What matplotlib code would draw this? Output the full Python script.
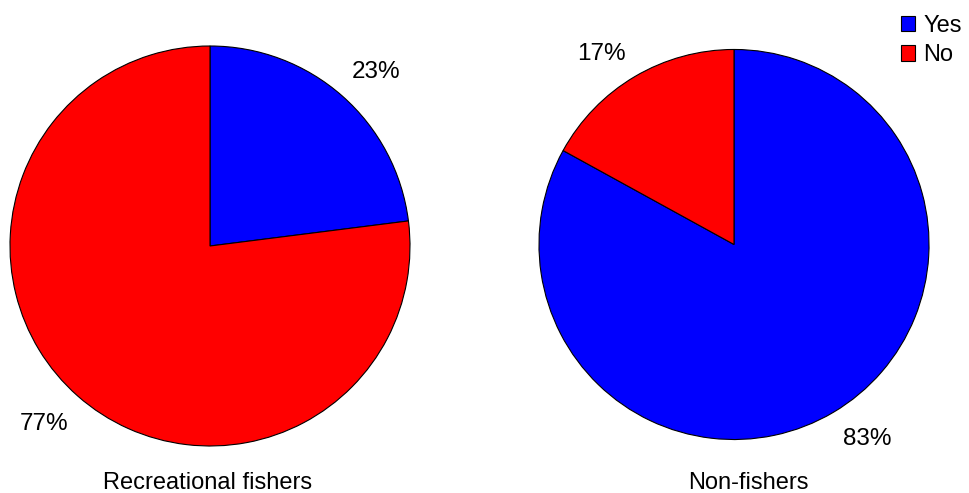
import numpy as np
import matplotlib.pyplot as plt
from matplotlib.patches import Patch

plt.rcParams['font.family'] = ['Liberation Sans', 'DejaVu Sans']

answers = ["Yes", "No"]
colors = ["#0000ff", "#ff0000"]
groups = ["Recreational fishers", "Non-fishers"]
yes_pct = [23, 83]
no_pct = [77, 17]

fig = plt.figure(figsize=(9.69, 4.93), dpi=100)

# axes boxes in figure coords, sized so each pie fills its box
boxes = [
    [9 / 969, 46 / 493, 402 / 969, 402 / 493],
    [538 / 969, 52.5 / 493, 392 / 969, 392 / 493],
]
title_x = [208 / 969, 748 / 969]
# small rotation (degrees) and radial distance for the percent labels
label_turn = [-2.0, 4.0]
label_dist = [1.21, 1.2]

for i, box in enumerate(boxes):
    ax = fig.add_axes(box)
    wedges, texts = ax.pie(
        [yes_pct[i], no_pct[i]],
        colors=colors,
        labels=[f"{yes_pct[i]}%", f"{no_pct[i]}%"],
        startangle=90,
        counterclock=False,
        radius=1,
        wedgeprops=dict(edgecolor="black", linewidth=0.8),
        textprops=dict(fontsize=17.5),
    )
    for w, t in zip(wedges, texts):
        mid = np.deg2rad((w.theta1 + w.theta2) / 2 + label_turn[i])
        t.set_position((label_dist[i] * np.cos(mid),
                        label_dist[i] * np.sin(mid) - 0.01))
        t.set_horizontalalignment("center")
        t.set_verticalalignment("center")
    ax.set_xlim(-1.005, 1.005)
    ax.set_ylim(-1.005, 1.005)
    ax.set_aspect("equal")
    ax.axis("off")
    fig.text(title_x[i], 4 / 493, groups[i], ha="center", va="baseline",
             fontsize=17)

handles = [Patch(facecolor=c, edgecolor="black", linewidth=0.8) for c in colors]
fig.legend(handles, answers, loc="upper right",
           bbox_to_anchor=(1.0, 1.0 - 8 / 493),
           frameon=False, fontsize=17, handlelength=0.62, handleheight=0.62,
           handletextpad=0.35, labelspacing=0.3, borderaxespad=0.0,
           borderpad=0.3)

fig.savefig("out.png", dpi=100)
